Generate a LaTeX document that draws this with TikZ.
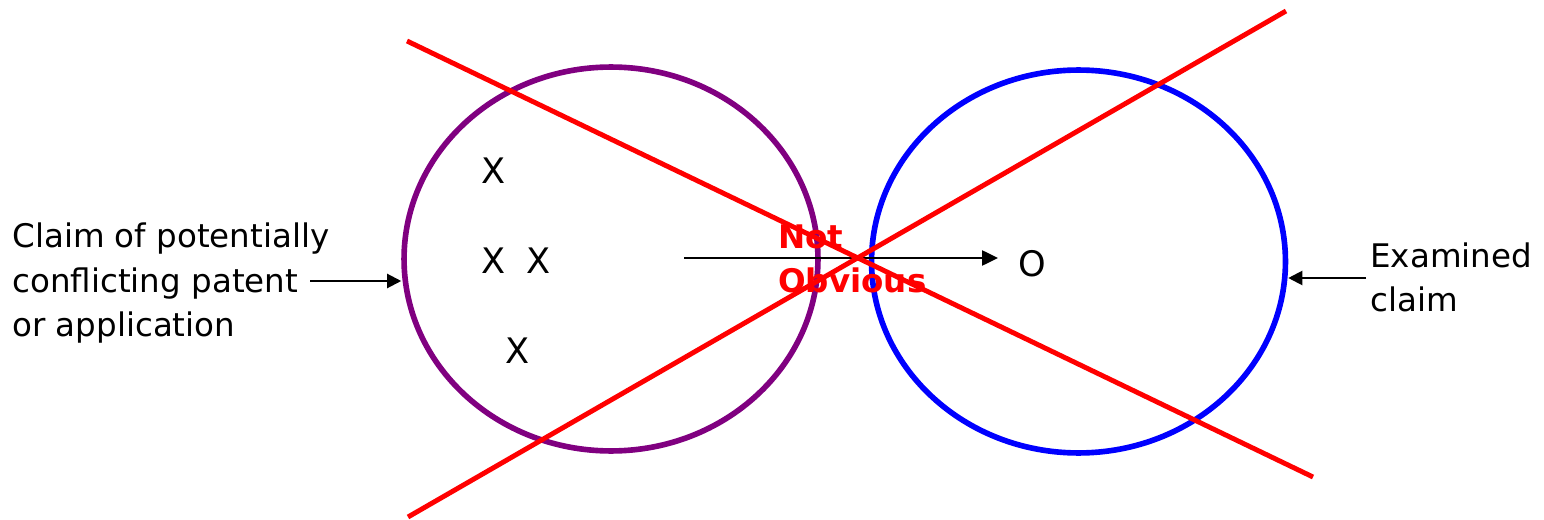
\documentclass[tikz,border=0pt]{standalone}
\usepackage{fontspec}
\setmainfont{DejaVu Sans}
\usetikzlibrary{arrows.meta,shapes.geometric}
\definecolor{claimpurple}{RGB}{128,0,128}

\begin{document}
\begin{tikzpicture}[x=0.02cm, y=-0.02cm, every node/.style={inner sep=0pt, font=\fontsize{18.5}{25}\selectfont}, >={Triangle[length=8pt,width=8pt]}]
	\useasboundingbox (0,0) rectangle (1544,520);
	\node[ellipse, draw=claimpurple, line width=3.2pt, minimum width=8.28cm, minimum height=7.68cm] (conflict) at (611,259) {};
	\node[ellipse, draw=blue, line width=3.2pt, minimum width=8.28cm, minimum height=7.66cm] (examined) at (1078.5,261.5) {};
	\node[anchor=base west] (claimA) at (12,247) {Claim of potentially};
	\node[anchor=base west] (claimB) at (12,292) {conflicting patent};
	\node[anchor=base west] (claimC) at (12,336) {or application};
	\node[anchor=base west] (examA) at (1370,267) {Examined};
	\node[anchor=base west] (examB) at (1370,311) {claim};
	\coordinate (lstart) at (310,281);
	\coordinate (rstart) at (1366,278);
	\draw[->, line width=1.2pt] (lstart) -- (lstart -| conflict.west);
	\draw[->, line width=1.2pt] (rstart) -- (rstart -| examined.east);
	\foreach \x/\y [count=\i] in {494/184, 494/273, 539/273, 517.5/363}
		\node[anchor=base, font=\fontsize{20}{24}\selectfont] (mark\i) at (\x,\y) {X};
	\node[anchor=base, font=\fontsize{20}{24}\selectfont] (target) at (1032.5,276) {O};
	\coordinate (mstart) at (684,258);
	\coordinate (mend) at (998,258);
	\draw[->, line width=1.2pt, >={Triangle[length=9pt,width=8.5pt]}] (mstart) -- (mend);
	\node[anchor=base west, text=red, font=\bfseries\fontsize{18.5}{25}\selectfont] (notA) at (778,248) {Not};
	\node[anchor=base west, text=red, font=\bfseries\fontsize{18.5}{25}\selectfont] (notB) at (778,292) {Obvious};
	\draw[red, line width=2.8pt] (407,41) -- (1313,477);
	\draw[red, line width=2.8pt] (408,517) -- (1286,11);
\end{tikzpicture}
\end{document}
